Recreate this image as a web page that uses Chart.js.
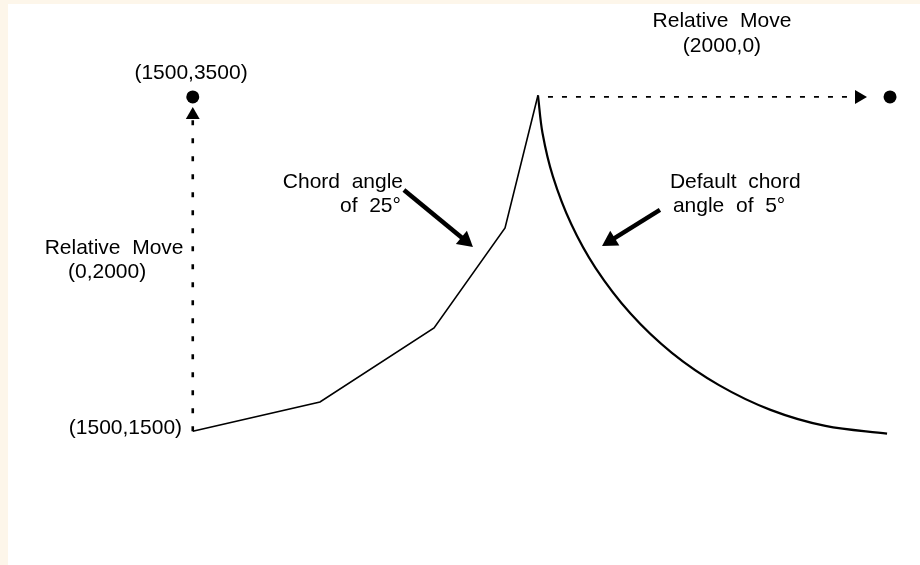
<!DOCTYPE html>
<html>
<head>
<meta charset="utf-8">
<script src="https://cdn.jsdelivr.net/npm/chart.js@4.4.1/dist/chart.umd.min.js"></script>
<style>
  html, body { margin: 0; padding: 0; background: #fdf6ea; }
</style>
</head>
<body>
<canvas id="diagram" width="920" height="565"></canvas>
<script>
// 25 degree chord path (drawing units)
const chordX = [1500, 2226, 2877, 3282, 3470];
const chordY = [1500, 1675, 2118, 2716, 3510];

// default 5 degree chord arc
const arcX = [3470, 3496, 3555, 3659, 3799, 3998, 4234, 4503, 4797, 5110, 5462];
const arcY = [3510, 3283, 3025, 2741, 2476, 2204, 1969, 1776, 1628, 1532, 1486];

// relative moves
const moveUpX = [1500, 1500];
const moveUpY = [1500, 3380];
const moveRightX = [3527, 5262];
const moveRightY = [3500, 3500];

// end points of the moves
const endX = [1500, 5479];
const endY = [3500, 3500];

// arrow heads of the moves
const headX = [1500, 5302];
const headY = [3392, 3500];
const headAngle = [0, 90];

// pointer arrows for the two labels
const pointerLeftX = [2705, 3055];
const pointerLeftY = [2943, 2641];
const pointerRightX = [4166, 3884];
const pointerRightY = [2824, 2640];
const pointerHeadX = [3055, 3884];
const pointerHeadY = [2641, 2640];
const pointerAngle = [129.6, 238.2];

// text labels
const labels = [
  { text: '(1500,3500)', x: 1490, y: 3643, align: 'center' },
  { text: 'Relative  Move', x: 4520, y: 3954, align: 'center' },
  { text: '(2000,0)', x: 4520, y: 3805, align: 'center' },
  { text: 'Chord  angle', x: 2700, y: 2991, align: 'right' },
  { text: 'of  25\u00b0', x: 2688, y: 2848, align: 'right' },
  { text: 'Default  chord', x: 4223, y: 2991, align: 'left' },
  { text: 'angle  of  5\u00b0', x: 4240, y: 2848, align: 'left' },
  { text: 'Relative  Move', x: 1051, y: 2596, align: 'center' },
  { text: '(0,2000)', x: 1011, y: 2453, align: 'center' },
  { text: '(1500,1500)', x: 1439, y: 1520, align: 'right' }
];

function pts(xs, ys) {
  return xs.map((v, i) => ({ x: v, y: ys[i] }));
}

const paperPlugin = {
  id: 'paper',
  beforeDraw(chart) {
    const ctx = chart.ctx;
    ctx.save();
    ctx.fillStyle = '#fdf6ea';
    ctx.fillRect(0, 0, chart.width, chart.height);
    ctx.fillStyle = '#ffffff';
    ctx.fillRect(8, 4, chart.width - 8, chart.height - 4);
    ctx.restore();
  }
};

const textPlugin = {
  id: 'texts',
  afterDatasetsDraw(chart) {
    const ctx = chart.ctx;
    const sx = chart.scales.x, sy = chart.scales.y;
    ctx.save();
    ctx.fillStyle = '#000';
    ctx.font = '21px "Liberation Sans", Arial, sans-serif';
    ctx.textBaseline = 'middle';
    labels.forEach(l => {
      ctx.textAlign = l.align;
      ctx.fillText(l.text, sx.getPixelForValue(l.x), sy.getPixelForValue(l.y));
    });
    ctx.restore();
  }
};

new Chart(document.getElementById('diagram'), {
  type: 'scatter',
  data: {
    datasets: [
      {
        data: pts(chordX, chordY),
        showLine: true, borderColor: '#000', borderWidth: 1.6,
        pointRadius: 0, tension: 0
      },
      {
        data: pts(arcX, arcY),
        showLine: true, borderColor: '#000', borderWidth: 2.2,
        pointRadius: 0, tension: 0.35
      },
      {
        data: pts(moveUpX, moveUpY),
        showLine: true, borderColor: '#000', borderWidth: 2.6,
        borderDash: [5, 13], pointRadius: 0
      },
      {
        data: pts(moveRightX, moveRightY),
        showLine: true, borderColor: '#000', borderWidth: 1.8,
        borderDash: [5, 9], pointRadius: 0
      },
      {
        data: pts(endX, endY),
        showLine: false, pointStyle: 'circle', pointRadius: 6.5,
        backgroundColor: '#000', borderColor: '#000', borderWidth: 0
      },
      {
        data: pts(headX, headY),
        showLine: false, pointStyle: 'triangle', pointRadius: 8,
        pointRotation: headAngle,
        backgroundColor: '#000', borderColor: '#000', borderWidth: 0
      },
      {
        data: pts(pointerLeftX, pointerLeftY),
        showLine: true, borderColor: '#000', borderWidth: 4.5,
        pointRadius: 0
      },
      {
        data: pts(pointerRightX, pointerRightY),
        showLine: true, borderColor: '#000', borderWidth: 4.5,
        pointRadius: 0
      },
      {
        data: pts(pointerHeadX, pointerHeadY),
        showLine: false, pointStyle: 'triangle', pointRadius: 10,
        pointRotation: pointerAngle,
        backgroundColor: '#000', borderColor: '#000', borderWidth: 0
      }
    ]
  },
  options: {
    responsive: false,
    animation: false,
    layout: { padding: 0, autoPadding: false },
    plugins: {
      legend: { display: false },
      tooltip: { enabled: false }
    },
    scales: {
      x: { type: 'linear', min: 400, max: 5650, display: false },
      y: { type: 'linear', min: 700, max: 4080, display: false }
    }
  },
  plugins: [paperPlugin, textPlugin]
});
</script>
</body>
</html>
